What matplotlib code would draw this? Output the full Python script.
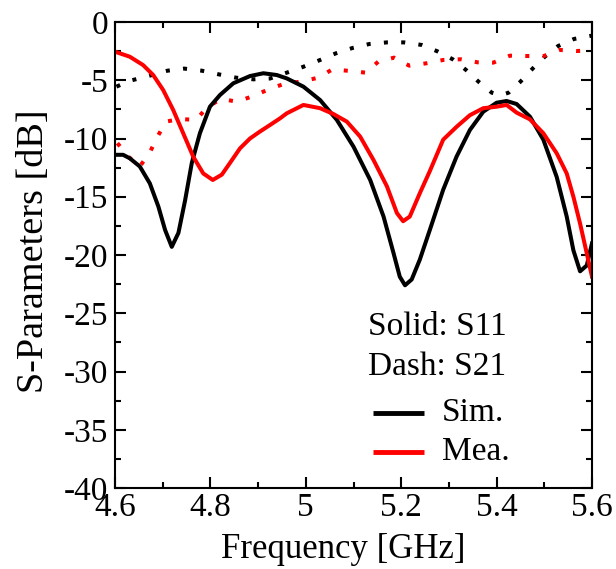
import matplotlib
matplotlib.use("Agg")
import matplotlib.pyplot as plt

plt.rcParams['font.family'] = ['Liberation Serif', 'DejaVu Serif']
plt.rcParams['axes.unicode_minus'] = False

# S11 simulated (black solid)
s11_sim_f = [4.600, 4.617, 4.631, 4.652, 4.673, 4.691, 4.705, 4.719, 4.733, 4.747, 4.761,
             4.778, 4.799, 4.820, 4.848, 4.883, 4.911, 4.939, 4.960, 4.995, 5.030, 5.065,
             5.100, 5.135, 5.163, 5.184, 5.197, 5.208, 5.222, 5.239, 5.260, 5.288, 5.316,
             5.344, 5.372, 5.400, 5.421, 5.442, 5.470, 5.498, 5.526, 5.547, 5.561, 5.575,
             5.589, 5.600]
s11_sim_db = [-11.4, -11.4, -11.7, -12.4, -13.85, -15.85, -17.85, -19.3, -18.1, -15.3, -12.1,
              -9.55, -7.27, -6.27, -5.26, -4.64, -4.4, -4.55, -4.84, -5.55, -6.7, -8.4,
              -10.7, -13.56, -16.7, -19.85, -21.86, -22.6, -22.1, -20.4, -17.85, -14.4, -11.56,
              -9.27, -7.7, -6.93, -6.78, -7.04, -8.13, -10.1, -13.3, -16.7, -19.6, -21.4,
              -20.9, -19.0]

# S11 measured (red solid)
s11_mea_f = [4.600, 4.631, 4.659, 4.680, 4.701, 4.722, 4.743, 4.764, 4.785, 4.805, 4.824,
             4.841, 4.862, 4.883, 4.904, 4.925, 4.946, 4.960, 4.995, 5.030, 5.058, 5.086,
             5.114, 5.142, 5.170, 5.191, 5.204, 5.218, 5.239, 5.260, 5.288, 5.316, 5.344,
             5.372, 5.400, 5.421, 5.442, 5.470, 5.498, 5.526, 5.547, 5.561, 5.575, 5.589,
             5.600]
s11_mea_db = [-2.55, -2.98, -3.7, -4.55, -5.84, -7.55, -9.55, -11.56, -13.0, -13.56, -13.1,
              -12.1, -10.85, -10.0, -9.4, -8.84, -8.27, -7.84, -7.12, -7.4, -7.9, -8.55,
              -9.84, -11.85, -14.1, -16.4, -17.1, -16.7, -14.7, -12.8, -10.1, -9.0, -8.0,
              -7.4, -7.27, -7.12, -7.78, -8.36, -9.55, -11.27, -13.0, -15.0, -17.3, -19.85,
              -21.86]

# S21 simulated (black dotted)
s21_sim_f = [4.603, 4.630, 4.675, 4.710, 4.745, 4.782, 4.817, 4.854, 4.890, 4.925, 4.960,
             4.995, 5.030, 5.063, 5.098, 5.133, 5.170, 5.206, 5.243, 5.276, 5.308, 5.336,
             5.362, 5.390, 5.407, 5.425, 5.450, 5.476, 5.501, 5.529, 5.562, 5.600]
s21_sim_db = [-5.55, -5.06, -4.58, -4.18, -4.0, -4.18, -4.49, -4.78, -4.92, -4.85, -4.35,
              -3.84, -3.26, -2.69, -2.23, -1.89, -1.75, -1.75, -1.97, -2.52, -3.2, -4.12,
              -5.12, -6.07, -6.3, -6.07, -5.12, -3.98, -2.98, -2.06, -1.46, -1.17]

# S21 measured (red dotted)
s21_mea_f = [4.605, 4.628, 4.652, 4.673, 4.689, 4.707, 4.735, 4.770, 4.793, 4.822, 4.856,
             4.890, 4.924, 4.958, 4.991, 5.026, 5.056, 5.091, 5.126, 5.152, 5.185, 5.217,
             5.252, 5.288, 5.325, 5.360, 5.393, 5.428, 5.463, 5.499, 5.532, 5.568, 5.590]
s21_mea_db = [-10.4, -11.56, -12.4, -11.2, -9.84, -8.55, -8.33, -8.4, -7.33, -6.6, -6.84,
              -6.35, -5.75, -5.26, -5.12, -4.78, -4.06, -4.2, -4.35, -3.4, -3.06, -3.75,
              -3.55, -3.26, -3.2, -3.46, -3.49, -2.89, -2.92, -2.92, -2.4, -2.49, -2.45]

x_ticks = [4.6, 4.8, 5.0, 5.2, 5.4, 5.6]
x_tick_labels = ['4.6', '4.8', '5', '5.2', '5.4', '5.6']
y_ticks = [0, -5, -10, -15, -20, -25, -30, -35, -40]
y_tick_labels = ['0', '-5', '-10', '-15', '-20', '-25', '-30', '-35', '-40']
legend_labels = ['Sim.', 'Mea.']
legend_colors = ['black', 'red']

fig = plt.figure(figsize=(6.16, 5.69), dpi=100)
ax = fig.add_axes([115/616, 1-488/569, 477/616, 466/569])

lw = 2.9
dot = (0, (1, 3.3))
ax.plot(s21_sim_f, s21_sim_db, color='black', lw=lw, linestyle=dot, dash_capstyle='butt')
ax.plot(s21_mea_f, s21_mea_db, color='red', lw=lw, linestyle=dot, dash_capstyle='butt')
ax.plot(s11_sim_f, s11_sim_db, color='black', lw=lw, solid_joinstyle='round')
ax.plot(s11_mea_f, s11_mea_db, color='red', lw=lw, solid_joinstyle='round')

ax.set_xlim(4.6, 5.6)
ax.set_ylim(-40, 0)
ax.set_xticks(x_ticks)
ax.set_xticklabels(x_tick_labels)
ax.set_yticks(y_ticks)
ax.set_yticklabels(y_tick_labels)
ax.set_xticks([4.7, 4.9, 5.1, 5.3, 5.5], minor=True)
ax.set_yticks([-2.5, -7.5, -12.5, -17.5, -22.5, -27.5, -32.5, -37.5], minor=True)
ax.tick_params(which='both', direction='in', top=True, right=True, width=1.5, labelsize=24, pad=5)
ax.tick_params(axis='x', which='both', pad=3)
ax.tick_params(which='major', length=8)
ax.tick_params(which='minor', length=4)
for s in ax.spines.values():
    s.set_linewidth(1.5)

ax.set_xlabel('Frequency [GHz]', fontsize=25)
ax.set_ylabel('S-Parameters [dB]', fontsize=27.5)
ax.xaxis.set_label_coords(0.478, -0.097, transform=ax.transAxes)
ax.yaxis.set_label_coords(-0.134, 0.5075, transform=ax.transAxes)
ax.xaxis.label.set_va('top')

# annotation / legend block
ax.text(0.530, 0.345, 'Solid: S11', transform=ax.transAxes, fontsize=24, va='center', ha='left')
ax.text(0.530, 0.260, 'Dash: S21', transform=ax.transAxes, fontsize=24, va='center', ha='left')
leg_y = [0.161, 0.078]
for lab, col, yy in zip(legend_labels, legend_colors, leg_y):
    ax.plot([0.540, 0.647], [yy, yy], transform=ax.transAxes, color=col, lw=lw + 0.6,
            solid_capstyle='butt')
    ax.text(0.686, yy, lab, transform=ax.transAxes, fontsize=24, va='center', ha='left')

fig.savefig('out.png', dpi=100)
